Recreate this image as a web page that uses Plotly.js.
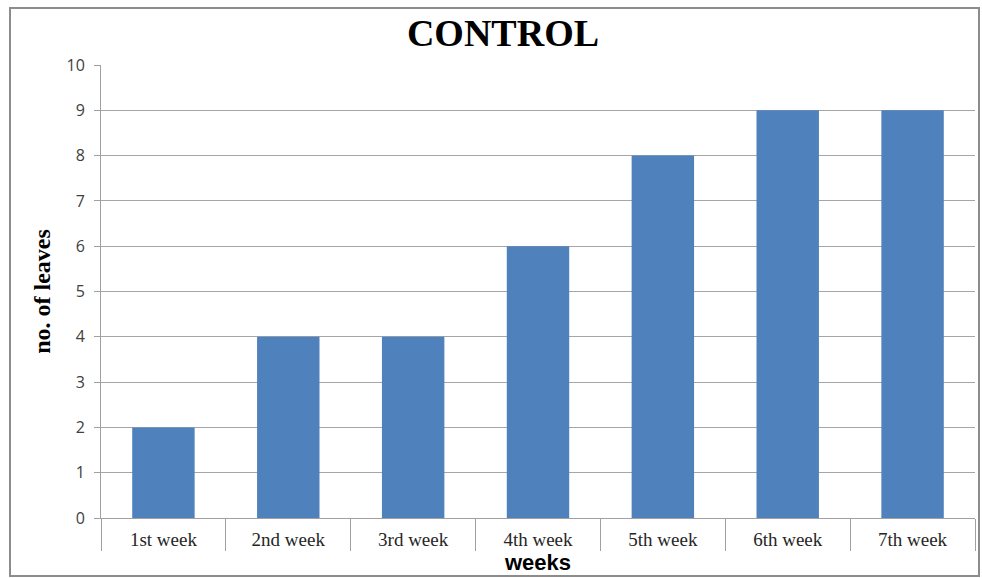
<!DOCTYPE html>
<html>
<head>
<meta charset="utf-8">
<script src="https://cdn.plot.ly/plotly-3.0.1.min.js"></script>
<style>
html,body{margin:0;padding:0;background:#fff;}
#chart{width:982px;height:578px;}
</style>
</head>
<body>
<div id="chart"></div>
<script>
const categories = ["1st week","2nd week","3rd week","4th week","5th week","6th week","7th week"];
const leaves = [2,4,4,6,8,9,9];
const yTicks = [0,1,2,3,4,5,6,7,8,9,10];

const W = 982, H = 578;
const m = {l:101, r:7, t:65, b:60};
const pw = W - m.l - m.r, ph = H - m.t - m.b;
function px(x){ return (x - m.l)/pw; }
function py(y){ return (H - m.b - y)/ph; }

const data = [{
  type: "bar",
  x: categories,
  y: leaves,
  marker: {color: "#4F81BD"},
  hoverinfo: "x+y"
}];

const layout = {
  width: W, height: H,
  margin: m,
  paper_bgcolor: "#ffffff",
  plot_bgcolor: "#ffffff",
  showlegend: false,
  bargap: 0.5,
  title: {
    text: "<b>CONTROL</b>",
    font: {family: "Liberation Serif, Times New Roman, serif", size: 38, color: "#000000"},
    x: px(503), xref: "paper", xanchor: "center",
    y: 41, yref: "container", yanchor: "middle"
  },
  xaxis: {
    type: "category",
    tickson: "boundaries",
    ticks: "outside",
    ticklen: 32,
    tickcolor: "#A0A0A0",
    tickwidth: 1,
    ticklabelstandoff: 4,
    tickfont: {family: "Liberation Serif, Times New Roman, serif", size: 19, color: "#262626"},
    showline: true, linecolor: "#A0A0A0", linewidth: 1,
    showgrid: false,
    zeroline: false,
    title: {
      text: "<b>weeks</b>",
      font: {family: "Liberation Sans, Arial, sans-serif", size: 22, color: "#000000"},
      standoff: 0
    },
    automargin: false
  },
  yaxis: {
    range: [0, 10],
    tickvals: yTicks,
    ticktext: yTicks.map(String),
    ticks: "outside",
    ticklen: 6,
    tickcolor: "#A0A0A0",
    ticklabelstandoff: 6,
    tickfont: {family: "Open Sans, Liberation Sans, sans-serif", size: 16, color: "#404040"},
    showline: true, linecolor: "#A0A0A0", linewidth: 1,
    showgrid: true, gridcolor: "#A6A6A6", gridwidth: 1,
    zeroline: false,
    title: {
      text: "<b>no. of leaves</b>",
      font: {family: "Liberation Serif, Times New Roman, serif", size: 24, color: "#000000"},
      standoff: 9
    },
    automargin: false
  },
  shapes: [{
    type: "rect", xref: "paper", yref: "paper",
    x0: px(10), x1: px(979), y0: py(576), y1: py(8),
    line: {color: "#8C8C8C", width: 2},
    fillcolor: "rgba(0,0,0,0)",
    layer: "below"
  }]
};

Plotly.newPlot("chart", data, layout, {displayModeBar: false, staticPlot: true});
</script>
</body>
</html>
